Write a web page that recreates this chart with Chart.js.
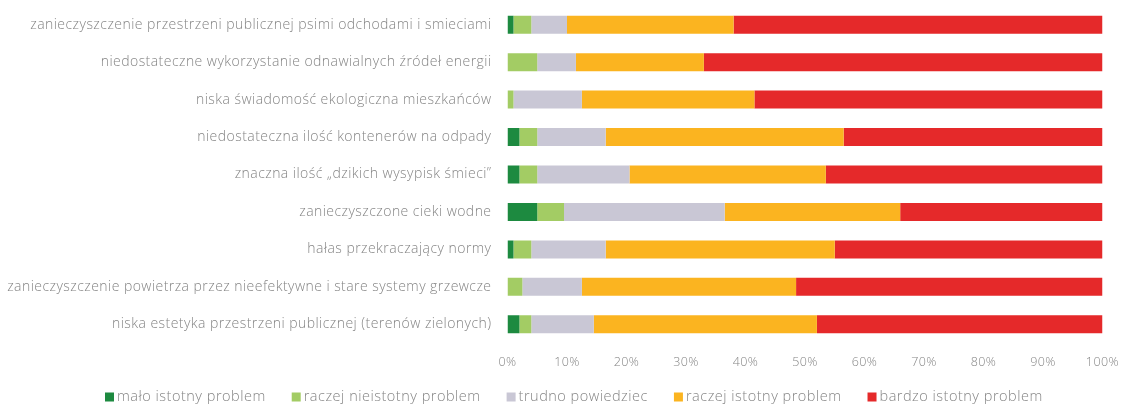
<!DOCTYPE html>
<html>
<head>
<meta charset="utf-8">
<script src="https://cdn.jsdelivr.net/npm/chart.js@4.4.0/dist/chart.umd.min.js"></script>
<style>
  html, body { margin: 0; padding: 0; background: #fff; }
  #wrap { width: 1122px; height: 407px; }
</style>
</head>
<body>
<div id="wrap"><canvas id="js--chart"></canvas></div>
<script>
const kategorie = [
  'zanieczyszczenie przestrzeni publicznej psimi odchodami i smieciami',
  'niedostateczne wykorzystanie odnawialnych źródeł energii',
  'niska świadomość ekologiczna mieszkańców',
  'niedostateczna ilość kontenerów na odpady',
  'znaczna ilość „dzikich wysypisk śmieci”',
  'zanieczyszczone cieki wodne',
  'hałas przekraczający normy',
  'zanieczyszczenie powietrza przez nieefektywne i stare systemy grzewcze',
  'niska estetyka przestrzeni publicznej (terenów zielonych)'
];

const maloIstotny     = [1, 0, 0, 2, 2, 5, 1, 0, 2];
const raczejNieistotny = [3, 5, 1, 3, 3, 4.5, 3, 2.5, 2];
const trudnoPowiedziec = [6, 6.5, 11.5, 11.5, 15.5, 27, 12.5, 10, 10.5];
const raczejIstotny   = [28, 21.5, 29, 40, 33, 29.5, 38.5, 36, 37.5];
const bardzoIstotny   = [62, 67, 58.5, 43.5, 46.5, 34, 45, 51.5, 48];

const osX = [0, 10, 20, 30, 40, 50, 60, 70, 80, 90, 100];

const szary = '#858585';
const czcionka = "'Open Sans', sans-serif";

// troche szerszy rozstaw liter jak w oryginale
const rozstawPlugin = {
  id: 'rozstaw',
  beforeDraw(chart) {
    chart.ctx.letterSpacing = '0.45px';
  }
};

// legenda rysowana recznie, bo odstepy w oryginale sa inne niz w Chart.js
const legendaPlugin = {
  id: 'legendaDol',
  afterDraw(chart) {
    const ctx = chart.ctx;
    ctx.save();
    ctx.font = '300 14.5px ' + czcionka;
    ctx.letterSpacing = '0.5px';
    ctx.textBaseline = 'middle';
    ctx.textAlign = 'left';
    const box = 9, odstep = 3, przerwa = 26;
    const items = chart.data.datasets.map(function(ds){
      return { text: ds.label, color: ds.backgroundColor, w: box + odstep + ctx.measureText(ds.label).width };
    });
    let x = 105;
    const y = 397;
    items.forEach(function(it){
      ctx.fillStyle = it.color;
      ctx.fillRect(x, y - box / 2, box, box);
      ctx.fillStyle = szary;
      ctx.fillText(it.text, x + box + odstep, y);
      x += it.w + przerwa;
    });
    ctx.restore();
  }
};

const data = {
  labels: kategorie,
  datasets: [
    { label: 'mało istotny problem', data: maloIstotny, backgroundColor: '#1d8a40' },
    { label: 'raczej nieistotny problem', data: raczejNieistotny, backgroundColor: '#a3cc64' },
    { label: 'trudno powiedziec', data: trudnoPowiedziec, backgroundColor: '#c9c7d5' },
    { label: 'raczej istotny problem', data: raczejIstotny, backgroundColor: '#fbb420' },
    { label: 'bardzo istotny problem', data: bardzoIstotny, backgroundColor: '#e5292a' }
  ]
};

const config = {
  type: 'bar',
  data: data,
  options: {
    indexAxis: 'y',
    responsive: true,
    maintainAspectRatio: false,
    animation: false,
    categoryPercentage: 1,
    barPercentage: 0.48,
    layout: { padding: { top: 6, right: 19.5, bottom: 30, left: 0 } },
    plugins: {
      legend: { display: false },
      tooltip: { enabled: false }
    },
    scales: {
      x: {
        stacked: true,
        min: 0,
        max: 100,
        afterBuildTicks: function(scale){ scale.ticks = osX.map(function(v){ return { value: v }; }); },
        grid: { display: false, drawTicks: false },
        border: { display: false },
        ticks: {
          padding: 12,
          color: szary,
          font: { family: czcionka, size: 12.5, weight: '300' },
          callback: function(v){ return v + '%'; }
        },
        afterFit: function(scale){
          scale.height = 34;
          scale.paddingLeft = 0;
          scale.paddingRight = 0;
        }
      },
      y: {
        stacked: true,
        grid: { display: false, drawTicks: false },
        border: { display: false },
        ticks: {
          padding: 16,
          color: szary,
          font: { family: czcionka, size: 14, weight: '300' }
        },
        afterFit: function(scale){
          scale.width = 507.5;
          scale.paddingTop = 0;
          scale.paddingBottom = 0;
        }
      }
    }
  },
  plugins: [rozstawPlugin, legendaPlugin]
};

const wykres = new Chart(document.getElementById('js--chart'), config);
</script>
</body>
</html>
